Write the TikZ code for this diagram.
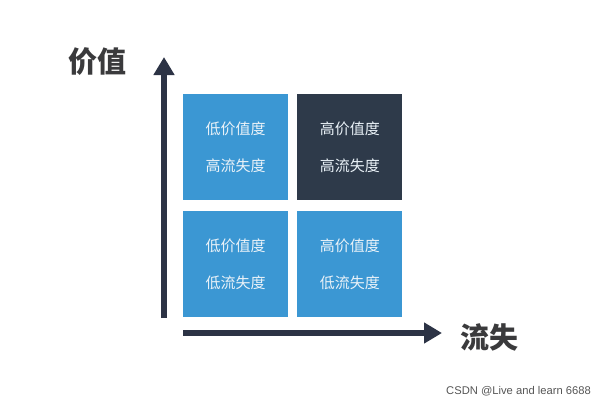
\documentclass[tikz,border=0pt]{standalone}
\usepackage{fontspec}
\usepackage{tikz}
\usetikzlibrary{arrows.meta, positioning}
\newfontfamily\cjk{Noto Sans CJK SC}
\setsansfont{Liberation Sans}
\definecolor{quadblue}{RGB}{59,151,211}
\definecolor{quaddark}{RGB}{46,58,74}
\definecolor{axisnavy}{RGB}{44,51,69}
\definecolor{labelgray}{RGB}{58,58,60}
\definecolor{quadtext}{RGB}{234,242,248}
\definecolor{marktext}{RGB}{85,85,85}

\begin{document}
\begin{tikzpicture}[x=1pt, y=-1pt, node distance=9pt and 9pt,
      quad/.style={rectangle, fill=quadblue, minimum width=105pt,
                   minimum height=106pt, inner sep=0pt, align=center,
                   text=quadtext, font=\cjk\fontsize{15}{37}\selectfont},
      axisline/.style={draw=axisnavy, line width=6pt,
                       -{Triangle[width=20pt,length=18pt]}},
      axislabel/.style={text=labelgray, font=\cjk\bfseries\fontsize{29}{32}\selectfont}]

    \useasboundingbox (0,0) rectangle (607,407);

    % quadrants
    \node[quad] (LH) at (235.5,147) {低价值度\\高流失度};
    \node[quad, fill=quaddark, right=9pt of LH] (HH) {高价值度\\高流失度};
    \node[quad, below=11pt of LH] (LL) {低价值度\\低流失度};
    \node[quad, right=9pt of LL] (HL) {高价值度\\低流失度};

    % axes
    \coordinate (ybot) at (164,318);
    \coordinate (ytop) at (164,57);
    \coordinate (xleft) at (183,333);
    \coordinate (xright) at (442,333);
    \draw[axisline] (ybot) -- (ytop);
    \draw[axisline] (xleft) -- (xright);

    \node[axislabel] (yl) at (97,62) {价值};
    \node[axislabel] (xl) at (489,337) {流失};

    \node[text=marktext, font=\sffamily\fontsize{11.2}{13}\selectfont] (mark) at (518.5,391) {CSDN @Live and learn 6688};
  \end{tikzpicture}
\end{document}
